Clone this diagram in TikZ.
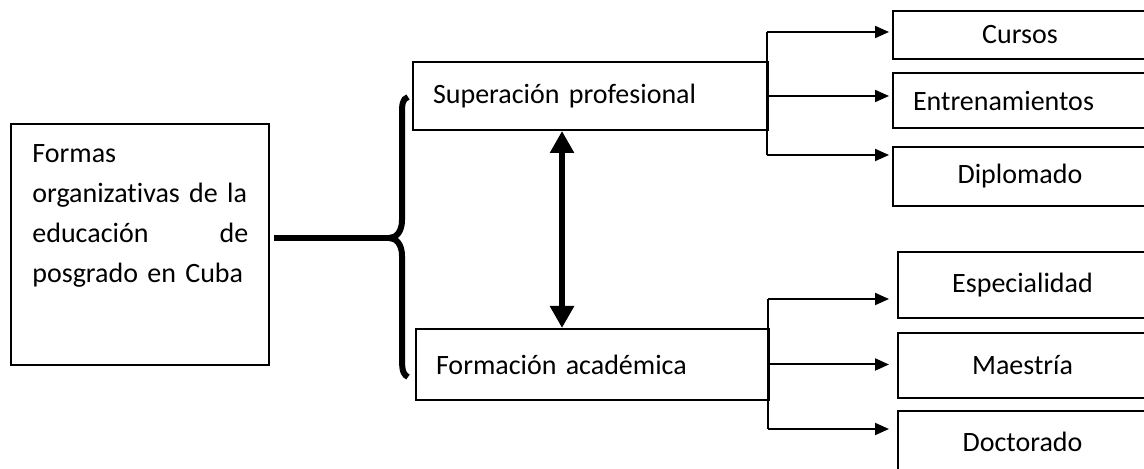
\documentclass[tikz,border=0pt]{standalone}
\usepackage{fontspec}
\setmainfont{Carlito}[Ligatures=NoCommon]
\usetikzlibrary{calc, positioning, arrows.meta}

\tikzset{
  caja/.style={draw, line width=1pt, inner xsep=10pt, inner ysep=0pt},
  fina/.style={line width=1pt},
  flecha/.style={fina, -{Triangle[length=7pt,width=6pt]}},
  gruesa/.style={line width=3pt},
  doble/.style={gruesa, {Triangle[length=11pt,width=11.5pt]}-{Triangle[length=11pt,width=11.5pt]}},
}

\begin{document}
\begin{tikzpicture}[x=0.5pt, y=-0.5pt, font=\fontsize{14}{20}\selectfont]
    \path[use as bounding box, clip] (0,0) rectangle (1144,469);

    % caja de la izquierda
    \node[caja, minimum width=129pt, minimum height=120.5pt] (formas) at (140,244.5) {};
    \node[anchor=north west, inner sep=0pt, text width=108pt, align=left] (formas_txt) at (32,144) {%
      Formas\\
      \mbox{organizativas de la}\\
      educación\hfill de\\
      \mbox{posgrado en Cuba}};

    % las dos vias
    \node[caja, minimum width=177.5pt, minimum height=34pt, text width=157.5pt, align=left] (superacion) at (590.5,96) {Superación profesional};
    \node[caja, minimum width=176.5pt, minimum height=35.5pt, text width=156.5pt, align=left] (formacion) at (592.5,364.5) {Formación académica};

    % superacion profesional
    \begin{scope}[every node/.style={caja, minimum width=127pt}]
      \node[minimum height=24pt] (cursos) at (1020,35) {Cursos};
      \node[minimum height=27.5pt, text width=107pt, align=left] (entren) at (1020,100.5) {Entrenamientos};
      \node[minimum height=29.5pt] (diplomado) at (1020,176.5) {Diplomado};
    \end{scope}

    % formacion academica
    \begin{scope}[every node/.style={caja, minimum width=124.5pt}]
      \node[minimum height=33pt] (especialidad) at (1022.5,285) {Especialidad};
      \node[minimum height=32.5pt] (maestria) at (1022.5,365.5) {Maestría};
      \node[minimum height=31pt] (doctorado) at (1022.5,442) {Doctorado};
    \end{scope}

    % llave
    \coordinate (llave) at (389,238);
    \draw[gruesa] ([xshift=2pt]formas.east |- llave) -- (llave);
    \draw[gruesa] (408,97) .. controls (402,99) and (402,105) .. (402,115) -- (402,220)
      .. controls (402,232) and (396,238) .. (llave)
      .. controls (396,238) and (402,244) .. (402,256) -- (402,360)
      .. controls (402,372) and (404,375) .. (408,377);

    % flecha doble
    \coordinate (eje) at (562,0);
    \draw[doble] (superacion.south -| eje) -- (formacion.north -| eje);

    % ramas de arriba
    \coordinate (s1) at (767,32);
    \coordinate (s3) at (767,155);
    \draw[fina] (s1) -- (s3);
    \draw[flecha, shorten >=1.5pt] (s1) -- (s1 -| cursos.west);
    \draw[flecha, shorten >=1.5pt] (superacion.east) -- (superacion.east -| entren.west);
    \draw[flecha, shorten >=1.5pt] (s3) -- (s3 -| diplomado.west);

    % ramas de abajo
    \coordinate (f1) at (768,299);
    \coordinate (f3) at (768,429);
    \draw[fina] (f1) -- (f3);
    \draw[flecha, shorten >=4pt] (f1) -- (f1 -| especialidad.west);
    \draw[flecha, shorten >=4pt] (formacion.east) -- (formacion.east -| maestria.west);
    \draw[flecha, shorten >=4pt] (f3) -- (f3 -| doctorado.west);

\end{tikzpicture}
\end{document}
